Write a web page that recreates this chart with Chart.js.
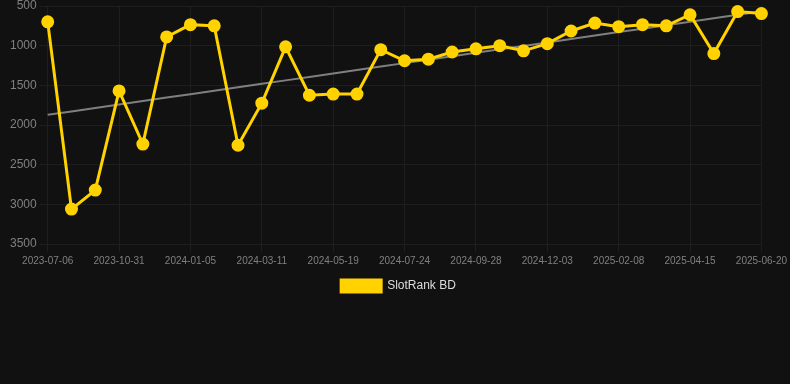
<!DOCTYPE html>
<html>
<head>
<meta charset="utf-8">
<script src="https://cdn.jsdelivr.net/npm/chart.js@4/dist/chart.umd.min.js"></script>
<style>
    html, body { margin: 0; padding: 0; background: #111111; }
    .chart-box { width: 790px; height: 384px; position: relative; }
</style>
</head>
<body>
<div class="chart-box"><canvas id="rankChart"></canvas></div>
<script>
        // Données
        const dates = [
            '2023-07-06', '2023-08-15', '2023-09-23', '2023-10-31', '2023-11-22', '2023-12-14',
            '2024-01-05', '2024-01-27', '2024-02-18', '2024-03-11', '2024-04-02', '2024-04-26',
            '2024-05-19', '2024-06-10', '2024-07-02', '2024-07-24', '2024-08-15', '2024-09-06',
            '2024-09-28', '2024-10-20', '2024-11-11', '2024-12-03', '2024-12-25', '2025-01-17',
            '2025-02-08', '2025-03-02', '2025-03-24', '2025-04-15', '2025-05-07', '2025-05-29',
            '2025-06-20'
        ];
        const ranks = [
            700, 3060, 2820, 1570, 2240, 890, 735, 750, 2255, 1725, 1015, 1625,
            1610, 1610, 1050, 1190, 1170, 1080, 1040, 1000, 1065, 975, 815, 715,
            760, 735, 750, 610, 1100, 570, 595
        ];
        const yTicks = [500, 1000, 1500, 2000, 2500, 3000, 3500];
        const seriesName = 'SlotRank BD';

        // Tendance (régression linéaire sur les rangs)
        function trendLine(values) {
            const n = values.length;
            const mx = (n - 1) / 2;
            const my = values.reduce((a, b) => a + b, 0) / n;
            let sxy = 0, sxx = 0;
            values.forEach((v, i) => { sxy += (i - mx) * (v - my); sxx += (i - mx) * (i - mx); });
            const slope = sxy / sxx;
            return values.map((v, i) => my + slope * (i - mx));
        }

        const ctx = document.getElementById('rankChart').getContext('2d');
        new Chart(ctx, {
            type: 'line',
            data: {
                labels: dates,
                datasets: [{
                    label: seriesName,
                    data: ranks,
                    borderColor: '#FFD200',
                    backgroundColor: '#FFD200',
                    borderWidth: 3,
                    pointRadius: 5,
                    pointHoverRadius: 5,
                    tension: 0,
                    clip: false,
                    order: 1
                }, {
                    label: 'trend',
                    data: trendLine(ranks),
                    borderColor: 'rgba(140,140,140,0.9)',
                    borderWidth: 2,
                    pointRadius: 0,
                    order: 2
                }]
            },
            options: {
                responsive: true,
                maintainAspectRatio: false,
                animation: false,
                layout: { autoPadding: false, padding: { top: 0, left: 7, right: 0, bottom: 82 } },
                plugins: {
                    legend: {
                        position: 'bottom',
                        labels: {
                            color: '#dddddd',
                            boxWidth: 40,
                            boxHeight: 12,
                            font: { size: 12, family: 'Arial, Liberation Sans, sans-serif' },
                            filter: item => item.text === seriesName
                        }
                    },
                    tooltip: { enabled: false }
                },
                scales: {
                    x: {
                        grid: { color: '#1e1e1e', drawTicks: true },
                        border: { color: '#1e1e1e' },
                        ticks: {
                            color: '#808080',
                            autoSkip: false,
                            maxRotation: 0,
                            font: { size: 10, family: 'Arial, Liberation Sans, sans-serif' },
                            callback: function(val, index) {
                                return index % 3 === 0 ? this.getLabelForValue(val) : null;
                            }
                        }
                    },
                    y: {
                        reverse: true,
                        min: 500,
                        max: 3500,
                        afterBuildTicks: axis => { axis.ticks = yTicks.map(v => ({ value: v })); },
                        afterFit: axis => { axis.paddingTop = 6; },
                        grid: { color: '#1e1e1e' },
                        border: { color: '#1e1e1e' },
                        ticks: {
                            color: '#808080',
                            font: { size: 12, family: 'Arial, Liberation Sans, sans-serif', lineHeight: 1 },
                            callback: v => String(v)
                        }
                    }
                }
            }
        });
</script>
</body>
</html>
